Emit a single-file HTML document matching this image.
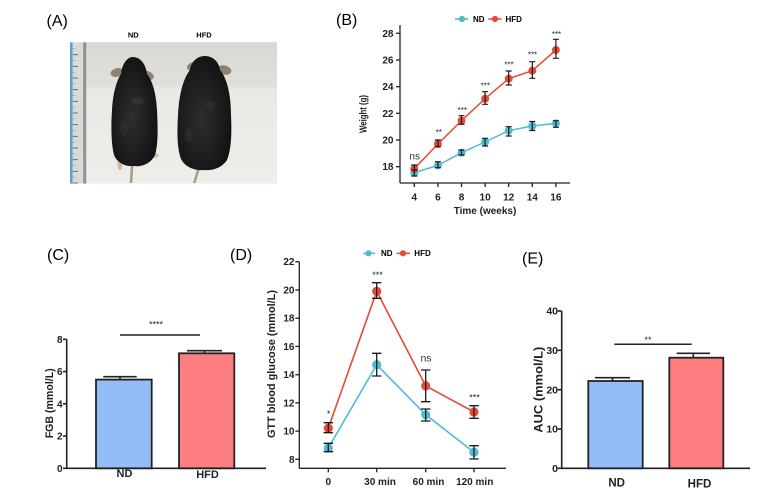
<!DOCTYPE html>
<html><head><meta charset="utf-8"><style>
html,body{margin:0;padding:0;background:#fff;}
svg{display:block;}
text{font-family:"Liberation Sans",Arial,sans-serif;}
.b{font-weight:bold;}
</style></head><body>
<svg width="774" height="499" viewBox="0 0 774 499" xmlns="http://www.w3.org/2000/svg">
<defs>
<linearGradient id="bgtop" x1="0" y1="0" x2="0" y2="1"><stop offset="0" stop-color="#dad8d3"/><stop offset="1" stop-color="#e0dfda"/></linearGradient>
<linearGradient id="bgbot" x1="0" y1="0" x2="0" y2="1"><stop offset="0" stop-color="#e8e7e2"/><stop offset="1" stop-color="#eeede9"/></linearGradient>
<radialGradient id="fur" cx="0.45" cy="0.55" r="0.6"><stop offset="0" stop-color="#2e2e30"/><stop offset="0.7" stop-color="#1a1a1b"/><stop offset="1" stop-color="#111112"/></radialGradient>
</defs>

<!-- Panel labels -->
<text x="46.5" y="26" font-size="16">(A)</text>
<text x="336" y="25" font-size="16">(B)</text>
<text x="47" y="260" font-size="16">(C)</text>
<text x="230" y="260" font-size="16">(D)</text>
<text x="522" y="263.5" font-size="16">(E)</text>

<!-- Panel A photo -->
<text class="b" x="133.3" y="37.7" font-size="7.5" text-anchor="middle">ND</text>
<text class="b" x="204" y="37.7" font-size="7.5" text-anchor="middle">HFD</text>
<rect x="70" y="42.3" width="207" height="141.3" fill="url(#bgbot)"/>
<rect x="86" y="42.3" width="191" height="45" fill="url(#bgtop)"/>
<rect x="86" y="86" width="191" height="3" fill="#e4e3de"/>
<rect x="70" y="42.3" width="2.7" height="141.3" fill="#5b9fd6"/>
<rect x="72.7" y="42.3" width="10.5" height="141.3" fill="#d9d9d5"/>
<rect x="83.2" y="42.3" width="3" height="141.3" fill="#8e9192"/>
<g stroke="#555" stroke-width="0.8">
<line x1="72.7" y1="54.7" x2="78" y2="54.7"/><line x1="72.7" y1="66.3" x2="78" y2="66.3"/><line x1="72.7" y1="78" x2="78" y2="78"/><line x1="72.7" y1="89.7" x2="78" y2="89.7"/><line x1="72.7" y1="101.3" x2="78" y2="101.3"/><line x1="72.7" y1="113" x2="78" y2="113"/><line x1="72.7" y1="124.7" x2="78" y2="124.7"/><line x1="72.7" y1="136.3" x2="78" y2="136.3"/><line x1="72.7" y1="148" x2="78" y2="148"/><line x1="72.7" y1="159.7" x2="78" y2="159.7"/><line x1="72.7" y1="171.3" x2="78" y2="171.3"/><line x1="72.7" y1="183" x2="78" y2="183"/>
</g>
<g stroke="#888" stroke-width="0.5">
<line x1="72.7" y1="48.8" x2="75.5" y2="48.8"/><line x1="72.7" y1="60.5" x2="75.5" y2="60.5"/><line x1="72.7" y1="72.2" x2="75.5" y2="72.2"/><line x1="72.7" y1="83.8" x2="75.5" y2="83.8"/><line x1="72.7" y1="95.5" x2="75.5" y2="95.5"/><line x1="72.7" y1="107.2" x2="75.5" y2="107.2"/><line x1="72.7" y1="118.8" x2="75.5" y2="118.8"/><line x1="72.7" y1="130.5" x2="75.5" y2="130.5"/><line x1="72.7" y1="142.2" x2="75.5" y2="142.2"/><line x1="72.7" y1="153.8" x2="75.5" y2="153.8"/><line x1="72.7" y1="165.5" x2="75.5" y2="165.5"/><line x1="72.7" y1="177.2" x2="75.5" y2="177.2"/>
</g>
<!-- ND mouse -->
<line x1="132.3" y1="162" x2="131" y2="183" stroke="#b39a88" stroke-width="2.6"/>
<ellipse cx="120" cy="164" rx="2.6" ry="6" fill="#d9b7a3"/>
<ellipse cx="154" cy="155.5" rx="4.5" ry="2.6" fill="#d9b7a3"/>
<ellipse cx="117" cy="72.5" rx="6.5" ry="4.3" fill="#8f806f" transform="rotate(-15 117 72.5)"/>
<ellipse cx="147.5" cy="75.5" rx="6.5" ry="4.3" fill="#8f806f" transform="rotate(20 147.5 75.5)"/>
<path d="M133,57 C140,57 146,64 147,74 C152,80 156,92 157,110 C158,130 158,145 155,155 C150,165 140,167 134,166 C126,167 117,163 114,155 C111,143 111,125 112,110 C113,92 117,80 121,74 C122,64 127,57 133,57 Z" fill="url(#fur)"/>
<ellipse cx="138" cy="101" rx="6" ry="4" fill="#3a3a3c" opacity="0.6"/>
<ellipse cx="124" cy="128" rx="4" ry="8" fill="#333336" opacity="0.5"/>
<!-- HFD mouse -->
<line x1="199" y1="167" x2="194.3" y2="183" stroke="#b39a88" stroke-width="2.6"/>
<ellipse cx="194" cy="66.5" rx="7" ry="4.5" fill="#8f806f" transform="rotate(-10 194 66.5)"/>
<ellipse cx="224.5" cy="70" rx="7" ry="4.5" fill="#8f806f" transform="rotate(15 224.5 70)"/>
<path d="M205,56 C213,56 219,62 220,70 C227,78 231,95 231,115 C232,135 231,150 227,160 C222,168 212,171 204,170 C195,171 185,167 181,159 C177,148 177,132 178,115 C179,95 183,79 190,70 C191,62 197,56 205,56 Z" fill="url(#fur)"/>
<ellipse cx="189" cy="135" rx="4" ry="7" fill="#353537" opacity="0.5"/>
<ellipse cx="210" cy="105" rx="5" ry="4" fill="#333335" opacity="0.5"/>

<!-- Panel B -->
<g class="b" font-size="8">
<line x1="455" y1="19" x2="468.3" y2="19" stroke="#4DBBD5" stroke-width="1.5"/><circle cx="462" cy="19" r="3.1" fill="#4DBBD5"/>
<text x="473" y="21.8">ND</text>
<line x1="488.3" y1="19" x2="501.7" y2="19" stroke="#E64B35" stroke-width="1.5"/><circle cx="495" cy="19" r="3.1" fill="#E64B35"/>
<text x="505.5" y="21.8">HFD</text>
</g>
<g stroke="#222" stroke-width="1.3" fill="none">
<line x1="400" y1="25" x2="400" y2="183"/>
<line x1="400" y1="183" x2="570" y2="183"/>
<line x1="396" y1="33.3" x2="400" y2="33.3"/><line x1="396" y1="60" x2="400" y2="60"/><line x1="396" y1="86.7" x2="400" y2="86.7"/><line x1="396" y1="113.3" x2="400" y2="113.3"/><line x1="396" y1="140" x2="400" y2="140"/><line x1="396" y1="166.7" x2="400" y2="166.7"/>
<line x1="414.3" y1="183" x2="414.3" y2="187"/><line x1="437.9" y1="183" x2="437.9" y2="187"/><line x1="461.5" y1="183" x2="461.5" y2="187"/><line x1="485.1" y1="183" x2="485.1" y2="187"/><line x1="508.7" y1="183" x2="508.7" y2="187"/><line x1="532.3" y1="183" x2="532.3" y2="187"/><line x1="555.9" y1="183" x2="555.9" y2="187"/>
</g>
<g class="b" font-size="10" text-anchor="end" fill="#222">
<text x="393.5" y="36.8">28</text><text x="393.5" y="63.5">26</text><text x="393.5" y="90.2">24</text><text x="393.5" y="116.8">22</text><text x="393.5" y="143.5">20</text><text x="393.5" y="170.2">18</text>
</g>
<g class="b" font-size="10" text-anchor="middle" fill="#222">
<text x="414.3" y="200.5">4</text><text x="437.9" y="200.5">6</text><text x="461.5" y="200.5">8</text><text x="485.1" y="200.5">10</text><text x="508.7" y="200.5">12</text><text x="532.3" y="200.5">14</text><text x="555.9" y="200.5">16</text>
</g>
<text class="b" x="485" y="214" font-size="10" text-anchor="middle" fill="#222">Time (weeks)</text>
<text class="b" x="0" y="0" font-size="10" text-anchor="middle" fill="#222" transform="translate(366.5 114) rotate(-90)" textLength="38" lengthAdjust="spacingAndGlyphs">Weight (g)</text>
<polyline points="414.3,172.7 437.9,165.4 461.5,152.7 485.1,142.0 508.7,130.7 532.3,126.0 555.9,123.4" fill="none" stroke="#4DBBD5" stroke-width="1.5"/>
<polyline points="414.3,168.7 437.9,144.0 461.5,120.7 485.1,98.7 508.7,78.7 532.3,70.7 555.9,50.0" fill="none" stroke="#E64B35" stroke-width="1.5"/>
<g fill="#4DBBD5">
<circle cx="414.3" cy="172.7" r="4"/><circle cx="437.9" cy="165.4" r="4"/><circle cx="461.5" cy="152.7" r="4"/><circle cx="485.1" cy="142.0" r="4"/><circle cx="508.7" cy="130.7" r="4"/><circle cx="532.3" cy="126.0" r="4"/><circle cx="555.9" cy="123.4" r="4"/>
</g>
<g fill="#E64B35">
<circle cx="414.3" cy="168.7" r="4"/><circle cx="437.9" cy="144.0" r="4"/><circle cx="461.5" cy="120.7" r="4"/><circle cx="485.1" cy="98.7" r="4"/><circle cx="508.7" cy="78.7" r="4"/><circle cx="532.3" cy="70.7" r="4"/><circle cx="555.9" cy="50.0" r="4"/>
</g>
<g stroke="#1a1a1a" stroke-width="1.2" fill="none">
<path d="M414.3,170V176M411.3,170H417.3M411.3,176H417.3"/>
<path d="M437.9,161.7V167.7M434.9,161.7H440.9M434.9,167.7H440.9"/>
<path d="M461.5,150V155M458.5,150H464.5M458.5,155H464.5"/>
<path d="M485.1,138.3V146M482.1,138.3H488.1M482.1,146H488.1"/>
<path d="M508.7,126.7V136M505.7,126.7H511.7M505.7,136H511.7"/>
<path d="M532.3,121.5V130.5M529.3,121.5H535.3M529.3,130.5H535.3"/>
<path d="M555.9,120.7V127.3M552.9,120.7H558.9M552.9,127.3H558.9"/>
<path d="M414.3,165V172M411.3,165H417.3"/>
<path d="M437.9,140V146.7M434.9,140H440.9M434.9,146.7H440.9"/>
<path d="M461.5,115.7V124.3M458.5,115.7H464.5M458.5,124.3H464.5"/>
<path d="M485.1,91.7V104.3M482.1,91.7H488.1M482.1,104.3H488.1"/>
<path d="M508.7,71V85M505.7,71H511.7M505.7,85H511.7"/>
<path d="M532.3,61.7V78.3M529.3,61.7H535.3M529.3,78.3H535.3"/>
<path d="M555.9,39.3V58.3M552.9,39.3H558.9M552.9,58.3H558.9"/>
</g>
<text x="414.7" y="159.3" font-size="10" text-anchor="middle" fill="#333">ns</text>
<g font-size="8" text-anchor="middle" fill="#222">
<text x="438.8" y="135">**</text>
<text x="462.3" y="112.8">***</text>
<text x="485.3" y="88.5">***</text>
<text x="509" y="67.5">***</text>
<text x="532.5" y="57.5">***</text>
<text x="556.5" y="36.8">***</text>
</g>

<!-- Panel C -->
<rect x="96" y="379.6" width="55.7" height="88.7" fill="#92bdf6" stroke="#222" stroke-width="1.8"/>
<rect x="179" y="353.3" width="55.3" height="115" fill="#fc7e80" stroke="#222" stroke-width="1.8"/>
<g stroke="#222" stroke-width="1.6" fill="none">
<path d="M120,379.6V376.7M103.3,376.7H136.7"/>
<path d="M204.5,353.3V350.7M187,350.7H222"/>
<line x1="66.7" y1="339.3" x2="66.7" y2="468.3"/>
<line x1="66" y1="468.3" x2="266" y2="468.3"/>
<line x1="63" y1="339.3" x2="66.7" y2="339.3"/><line x1="63" y1="371.6" x2="66.7" y2="371.6"/><line x1="63" y1="403.8" x2="66.7" y2="403.8"/><line x1="63" y1="436.1" x2="66.7" y2="436.1"/><line x1="63" y1="468.3" x2="66.7" y2="468.3"/>
<line x1="120" y1="335" x2="200" y2="335" stroke-width="1.5"/>
</g>
<g class="b" font-size="10" text-anchor="end" fill="#222">
<text x="62.5" y="342.8">8</text><text x="62.5" y="375.1">6</text><text x="62.5" y="407.3">4</text><text x="62.5" y="439.6">2</text><text x="62.5" y="471.8">0</text>
</g>
<text x="156" y="327.5" font-size="9" text-anchor="middle" fill="#222">****</text>
<text class="b" x="0" y="0" font-size="11" text-anchor="middle" fill="#222" transform="translate(53 403.3) rotate(-90)" textLength="70" lengthAdjust="spacingAndGlyphs">FGB (mmol/L)</text>
<text class="b" x="124.5" y="477" font-size="11" text-anchor="middle" fill="#222">ND</text>
<text class="b" x="207.5" y="478" font-size="11" text-anchor="middle" fill="#222">HFD</text>

<!-- Panel D -->
<g class="b" font-size="8">
<line x1="363.3" y1="253.3" x2="375" y2="253.3" stroke="#4DBBD5" stroke-width="1.5"/><circle cx="368.5" cy="253.3" r="3.1" fill="#4DBBD5"/>
<text x="381" y="256.1">ND</text>
<line x1="396.7" y1="253.3" x2="410" y2="253.3" stroke="#E64B35" stroke-width="1.5"/><circle cx="403" cy="253.3" r="3.1" fill="#E64B35"/>
<text x="414.3" y="256.1">HFD</text>
</g>
<g stroke="#222" stroke-width="1.3" fill="none">
<line x1="299.3" y1="261.7" x2="299.3" y2="468.3"/>
<line x1="299.3" y1="468.3" x2="506" y2="468.3"/>
<line x1="295.3" y1="261.7" x2="299.3" y2="261.7"/><line x1="295.3" y1="290" x2="299.3" y2="290"/><line x1="295.3" y1="318.2" x2="299.3" y2="318.2"/><line x1="295.3" y1="346.4" x2="299.3" y2="346.4"/><line x1="295.3" y1="374.7" x2="299.3" y2="374.7"/><line x1="295.3" y1="402.9" x2="299.3" y2="402.9"/><line x1="295.3" y1="431.1" x2="299.3" y2="431.1"/><line x1="295.3" y1="459.3" x2="299.3" y2="459.3"/>
<line x1="328.3" y1="468.3" x2="328.3" y2="472.3"/><line x1="376.7" y1="468.3" x2="376.7" y2="472.3"/><line x1="425.7" y1="468.3" x2="425.7" y2="472.3"/><line x1="474" y1="468.3" x2="474" y2="472.3"/>
</g>
<g class="b" font-size="10" text-anchor="end" fill="#222">
<text x="294.5" y="265.2">22</text><text x="294.5" y="293.5">20</text><text x="294.5" y="321.7">18</text><text x="294.5" y="349.9">16</text><text x="294.5" y="378.2">14</text><text x="294.5" y="406.4">12</text><text x="294.5" y="434.6">10</text><text x="294.5" y="462.8">8</text>
</g>
<g class="b" font-size="10" text-anchor="middle" fill="#222">
<text x="328.3" y="485">0</text><text x="380" y="485">30 min</text><text x="428.5" y="485">60 min</text><text x="474.7" y="485">120 min</text>
</g>
<text class="b" x="0" y="0" font-size="11" text-anchor="middle" fill="#222" transform="translate(275 364) rotate(-90)" textLength="148" lengthAdjust="spacingAndGlyphs">GTT blood glucose (mmol/L)</text>
<polyline points="328.3,448.0 376.7,364.7 425.7,414.8 474,452.2" fill="none" stroke="#4DBBD5" stroke-width="1.6"/>
<polyline points="328.3,428.2 376.7,291.3 425.7,385.9 474,412.0" fill="none" stroke="#E64B35" stroke-width="1.6"/>
<g fill="#4DBBD5">
<circle cx="328.3" cy="448.0" r="4.6"/><circle cx="376.7" cy="364.7" r="4.6"/><circle cx="425.7" cy="414.8" r="4.6"/><circle cx="474" cy="452.2" r="4.6"/>
</g>
<g fill="#E64B35">
<circle cx="328.3" cy="428.2" r="4.6"/><circle cx="376.7" cy="291.3" r="4.6"/><circle cx="425.7" cy="385.9" r="4.6"/><circle cx="474" cy="412.0" r="4.6"/>
</g>
<g stroke="#1a1a1a" stroke-width="1.3" fill="none">
<path d="M328.3,443.3V451.7M323.6,443.3H333M323.6,451.7H333"/>
<path d="M376.7,353.3V376M372,353.3H381.4M372,376H381.4"/>
<path d="M425.7,409V421M421,409H430.4M421,421H430.4"/>
<path d="M474,445.7V459M469.3,445.7H478.7M469.3,459H478.7"/>
<path d="M328.3,422.7V432.7M323.6,422.7H333M323.6,432.7H333"/>
<path d="M376.7,282.7V298.3M372,282.7H381.4M372,298.3H381.4"/>
<path d="M425.7,370V401.7M421,370H430.4M421,401.7H430.4"/>
<path d="M474,405.7V418.3M469.3,405.7H478.7M469.3,418.3H478.7"/>
</g>
<g font-size="9" text-anchor="middle" fill="#222">
<text x="328.6" y="417">*</text>
<text x="377.5" y="278">***</text>
<text x="474.5" y="400.5">***</text>
</g>
<text x="426" y="361.7" font-size="10.5" text-anchor="middle" fill="#333">ns</text>

<!-- Panel E -->
<rect x="588.3" y="381" width="54.4" height="87.3" fill="#92bdf6" stroke="#222" stroke-width="1.8"/>
<rect x="669.3" y="357.7" width="54" height="110.6" fill="#fc7e80" stroke="#222" stroke-width="1.8"/>
<g stroke="#222" stroke-width="1.6" fill="none">
<path d="M612.5,381V377.7M595,377.7H630"/>
<path d="M693.3,357.7V353.3M676.7,353.3H710"/>
<line x1="561.7" y1="311" x2="561.7" y2="468.3"/>
<line x1="561" y1="468.3" x2="750" y2="468.3"/>
<line x1="557.7" y1="311" x2="561.7" y2="311"/><line x1="557.7" y1="350.3" x2="561.7" y2="350.3"/><line x1="557.7" y1="389.7" x2="561.7" y2="389.7"/><line x1="557.7" y1="429" x2="561.7" y2="429"/><line x1="557.7" y1="468.3" x2="561.7" y2="468.3"/>
<line x1="614.3" y1="344.3" x2="691.7" y2="344.3" stroke-width="1.5"/>
</g>
<g class="b" font-size="10.5" text-anchor="end" fill="#222">
<text x="558" y="314.7">40</text><text x="558" y="354">30</text><text x="558" y="393.4">20</text><text x="558" y="432.7">10</text><text x="558" y="472">0</text>
</g>
<text x="648" y="343" font-size="9" text-anchor="middle" fill="#222">**</text>
<text class="b" x="0" y="0" font-size="12" text-anchor="middle" fill="#222" transform="translate(542.5 389.7) rotate(-90)" textLength="86" lengthAdjust="spacingAndGlyphs">AUC (mmol/L)</text>
<text class="b" x="616.7" y="486.7" font-size="11.5" text-anchor="middle" fill="#222">ND</text>
<text class="b" x="699.5" y="487.7" font-size="11.5" text-anchor="middle" fill="#222">HFD</text>
</svg>
</body></html>
